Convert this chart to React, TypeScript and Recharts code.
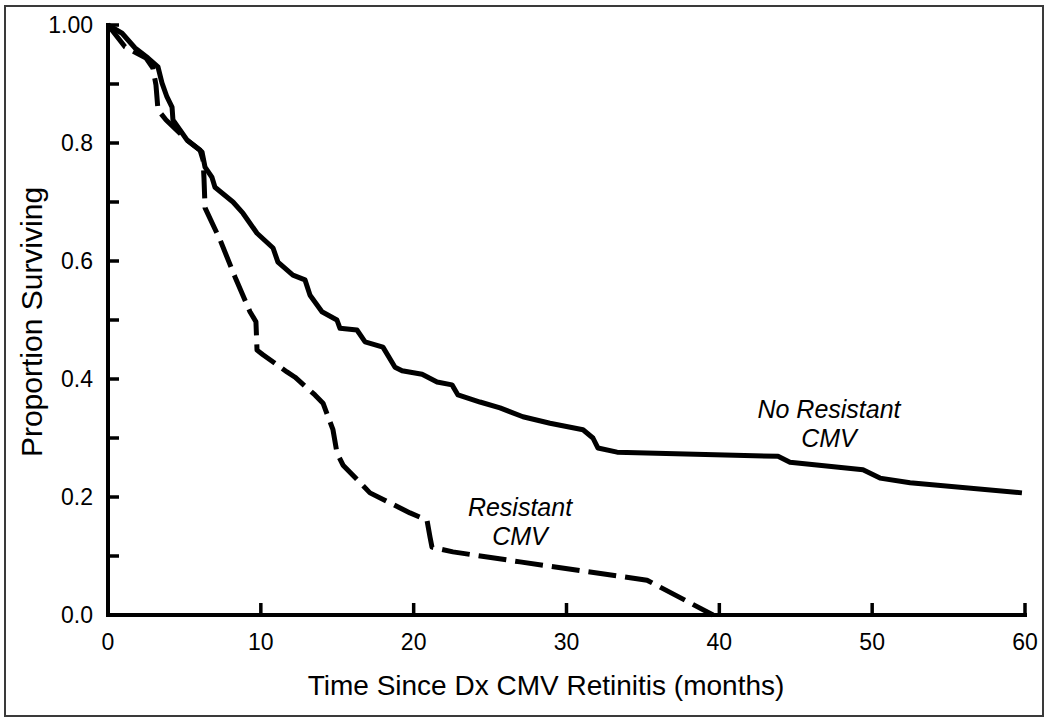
import { LineChart, Line, XAxis, YAxis } from 'recharts';

// Kaplan-Meier survival
const noResistantTime = [
  0, 0.92, 1.77, 2.62, 3.27, 3.53, 3.86, 4.19, 4.25, 4.71, 5.17, 5.56, 6.15, 6.35, 6.8, 7.0,
  8.18, 8.83, 9.75, 10.8, 11.12, 12.1, 12.89, 13.22, 14.0, 14.98, 15.18, 16.29, 16.82, 17.99,
  18.78, 19.24, 20.55, 21.53, 22.51, 22.9, 24.34, 25.65, 27.15, 28.92, 31.08, 31.73, 32.06,
  33.31, 43.84, 44.62, 49.4, 50.51, 52.48, 59.8,
];
const noResistantSurv = [
  1.0, 0.986, 0.961, 0.944, 0.929, 0.902, 0.878, 0.861, 0.839, 0.822, 0.805, 0.797, 0.785, 0.759,
  0.742, 0.725, 0.7, 0.681, 0.647, 0.622, 0.598, 0.576, 0.568, 0.542, 0.514, 0.5, 0.486, 0.483,
  0.463, 0.454, 0.42, 0.414, 0.408, 0.395, 0.39, 0.373, 0.361, 0.351, 0.336, 0.325, 0.314, 0.3,
  0.283, 0.276, 0.269, 0.259, 0.246, 0.232, 0.224, 0.207,
];

const resistantTime = [
  0, 1.11, 2.49, 2.94, 3.14, 3.27, 3.8, 5.17, 6.02, 6.22, 6.28, 6.35, 7.33, 8.31, 9.29, 9.68,
  9.75, 10.14, 11.71, 12.24, 13.54, 14.07, 14.72, 14.98, 15.38, 17.14, 19.76, 20.87, 21.07,
  21.2, 22.57, 26.96, 35.27, 39.59,
];
const resistantSurv = [
  1.0, 0.963, 0.944, 0.927, 0.898, 0.856, 0.839, 0.805, 0.788, 0.771, 0.741, 0.69, 0.636, 0.573,
  0.514, 0.497, 0.449, 0.441, 0.412, 0.403, 0.373, 0.359, 0.314, 0.275, 0.254, 0.207, 0.173,
  0.161, 0.132, 0.115, 0.107, 0.09, 0.059, 0.0,
];

const xTicks = [0, 10, 20, 30, 40, 50, 60];
const yTicks = [0, 0.1, 0.2, 0.3, 0.4, 0.5, 0.6, 0.7, 0.8, 0.9, 1.0];
const yTickLabels = ['0.0', '', '0.2', '', '0.4', '', '0.6', '', '0.8', '', '1.00'];

const noResistant = noResistantTime.map((t, i) => ({ t, s: noResistantSurv[i] }));
const resistant = resistantTime.map((t, i) => ({ t, s: resistantSurv[i] }));

const FONT = '"Liberation Sans", Arial, Helvetica, sans-serif';

function XTick(props: any) {
  const { x, y, payload } = props;
  return (
    <g>
      <line x1={x} y1={y} x2={x} y2={y - 12} stroke="#000" strokeWidth={3.5} />
      <text x={x} y={y + 35} textAnchor="middle" fontSize={23} fontFamily={FONT} fill="#000">
        {payload.value}
      </text>
    </g>
  );
}

function YTick(props: any) {
  const { x, y, index } = props;
  return (
    <g>
      <line x1={x} y1={y} x2={x + 11} y2={y} stroke="#000" strokeWidth={3.5} />
      <text x={x - 15} y={y + 8} textAnchor="end" fontSize={23} fontFamily={FONT} fill="#000">
        {yTickLabels[index]}
      </text>
    </g>
  );
}

export default function App() {
  return (
    <div style={{ position: 'absolute', left: 0, top: 0, width: 1050, height: 722, background: '#fff' }}>
      <div
        style={{
          position: 'absolute',
          left: 4,
          top: 5,
          width: 1036,
          height: 708,
          border: '2px solid #3a3a3a',
        }}
      />
      <LineChart width={1050} height={722} margin={{ top: 25, right: 25, bottom: 7, left: 0 }}>
        <XAxis
          type="number"
          dataKey="t"
          domain={[0, 60]}
          ticks={xTicks}
          interval={0}
          tickSize={0}
          tickMargin={0}
          tick={<XTick />}
          height={100}
          axisLine={{ stroke: '#000', strokeWidth: 4, strokeLinecap: 'square' }}
        />
        <YAxis
          type="number"
          domain={[0, 1]}
          ticks={yTicks}
          interval={0}
          tickSize={0}
          tickMargin={0}
          tick={<YTick />}
          width={108}
          axisLine={{ stroke: '#000', strokeWidth: 4, strokeLinecap: 'square' }}
        />
        <Line
          data={noResistant}
          dataKey="s"
          type="linear"
          stroke="#000"
          strokeWidth={5}
          strokeLinejoin="round"
          dot={false}
          activeDot={false}
          isAnimationActive={false}
        />
        <Line
          data={resistant}
          dataKey="s"
          type="linear"
          stroke="#000"
          strokeWidth={5}
          strokeDasharray="28 9"
          strokeLinejoin="round"
          dot={false}
          activeDot={false}
          isAnimationActive={false}
        />
        <text
          x={42}
          y={322}
          transform="rotate(-90, 42, 322)"
          textAnchor="middle"
          fontSize={30}
          fontFamily={FONT}
          fill="#000"
        >
          Proportion Surviving
        </text>
        <text x={546} y={695} textAnchor="middle" fontSize={28} fontFamily={FONT} fill="#000">
          Time Since Dx CMV Retinitis (months)
        </text>
        <text textAnchor="middle" fontSize={25} fontStyle="italic" fontFamily={FONT} fill="#000">
          <tspan x={829} y={418}>No Resistant</tspan>
          <tspan x={829} y={447}>CMV</tspan>
        </text>
        <text textAnchor="middle" fontSize={25} fontStyle="italic" fontFamily={FONT} fill="#000">
          <tspan x={520} y={516}>Resistant</tspan>
          <tspan x={520} y={545}>CMV</tspan>
        </text>
      </LineChart>
    </div>
  );
}
